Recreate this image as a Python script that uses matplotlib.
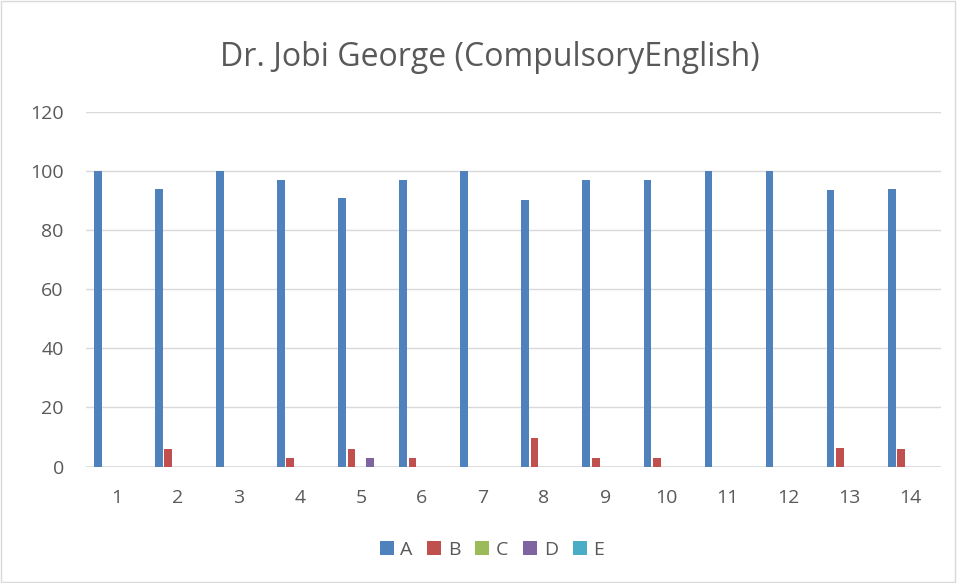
import numpy as np
import matplotlib.pyplot as plt
from matplotlib.patches import Rectangle

categories = [str(i) for i in range(1, 15)]
series_names = ["A", "B", "C", "D", "E"]
a_vals = [100, 94, 100, 97, 91, 97, 100, 90.3, 97, 97, 100, 100, 93.7, 94]
b_vals = [0, 6, 0, 3, 6, 3, 0, 9.7, 3, 3, 0, 0, 6.3, 6]
c_vals = [0] * 14
d_vals = [0, 0, 0, 0, 3, 0, 0, 0, 0, 0, 0, 0, 0, 0]
e_vals = [0] * 14
colors = ["#4f81bd", "#c0504d", "#9bbb59", "#8064a2", "#4bacc6"]

plt.rcParams['font.family'] = ['Open Sans', 'DejaVu Sans']
txt = "#595959"

fig = plt.figure(figsize=(9.57, 5.83), dpi=100)
fig.patches.append(Rectangle((0.001, 0.001), 0.997, 0.997, transform=fig.transFigure,
                             fill=False, edgecolor="#d9d9d9", linewidth=1))
ax = fig.add_axes([86 / 957, 1 - 466.5 / 583, (941 - 86) / 957, (466.5 - 112) / 583])

x = np.arange(len(categories))
slot = 0.154   # spacing between series within a group
w = 0.126      # visible bar width
allv = [a_vals, b_vals, c_vals, d_vals, e_vals]
for i, (name, vals) in enumerate(zip(series_names, allv)):
    ax.bar(x + (i - 2) * slot, vals, w, color=colors[i], label=name, zorder=3)

ax.set_xlim(-0.5, len(categories) - 0.5)
ax.set_ylim(0, 120)
ax.set_yticks(range(0, 121, 20))
ax.yaxis.grid(True, color="#d9d9d9", linewidth=1, zorder=0)
ax.set_xticks(x)
ax.set_xticklabels(categories)
for s in ax.spines.values():
    s.set_visible(False)
ax.axhline(0, color="#d9d9d9", linewidth=1.2, zorder=2)
ax.tick_params(axis="both", length=0, colors=txt, labelsize=14)
ax.tick_params(axis="y", pad=16)
ax.tick_params(axis="x", pad=16)

fig.text(490 / 957, 1 - 58 / 583, "Dr. Jobi George (CompulsoryEnglish)", ha="center", va="center",
         fontsize=23, color=txt)
fig.legend(loc="center", bbox_to_anchor=(492 / 957, 1 - 550 / 583), ncol=5, frameon=False,
           fontsize=14, labelcolor=txt, handlelength=0.72, handleheight=0.72, columnspacing=0.75,
           handletextpad=0.35)

fig.savefig("out.png", dpi=100)
